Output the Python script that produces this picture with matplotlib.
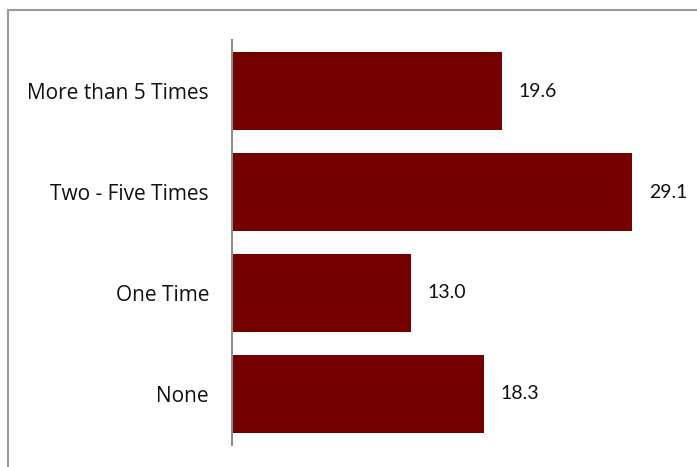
import matplotlib
matplotlib.use("Agg")
import matplotlib.pyplot as plt
from matplotlib.lines import Line2D

categories = ["None", "One Time", "Two - Five Times", "More than 5 Times"]
values = [18.3, 13.0, 29.1, 19.6]

W, H = 697, 467
fig = plt.figure(figsize=(W / 100, H / 100), dpi=100)
fig.patch.set_facecolor("white")

# axes box in pixel units, converted to figure fractions
left, right, top, bottom = 232, 697, 40, 445
ax = fig.add_axes([left / W, 1 - bottom / H, (right - left) / W, (bottom - top) / H])

pos = list(range(len(categories)))
ax.barh(pos, values, height=0.77, color="#750000", edgecolor="none")
ax.set_ylim(-0.505, 3.505)
ax.set_xlim(0, (right - left) / 13.75)

for p, v in zip(pos, values):
    ax.text(v + 1.25, p, f"{v:.1f}", va="center", ha="left",
            fontsize=14, family="Lato", color="#111111")

ax.set_yticks(pos)
ax.set_yticklabels(categories, fontsize=15, family="Open Sans", color="#111111")
ax.tick_params(axis="y", length=0, pad=16.5)
ax.set_xticks([])
for s in ["top", "right", "bottom"]:
    ax.spines[s].set_visible(False)
ax.spines["left"].set_color("#8c8c8c")
ax.spines["left"].set_linewidth(1.5)

# outer frame (top and left edges fall inside the image)
fig.add_artist(Line2D([8 / W, 8 / W], [0, 1 - 10 / H], transform=fig.transFigure,
                      color="#9a9a9a", lw=1.5))
fig.add_artist(Line2D([8 / W, 1], [1 - 10 / H, 1 - 10 / H], transform=fig.transFigure,
                      color="#9a9a9a", lw=1.5))

fig.savefig("out.png", dpi=100, facecolor="white")
